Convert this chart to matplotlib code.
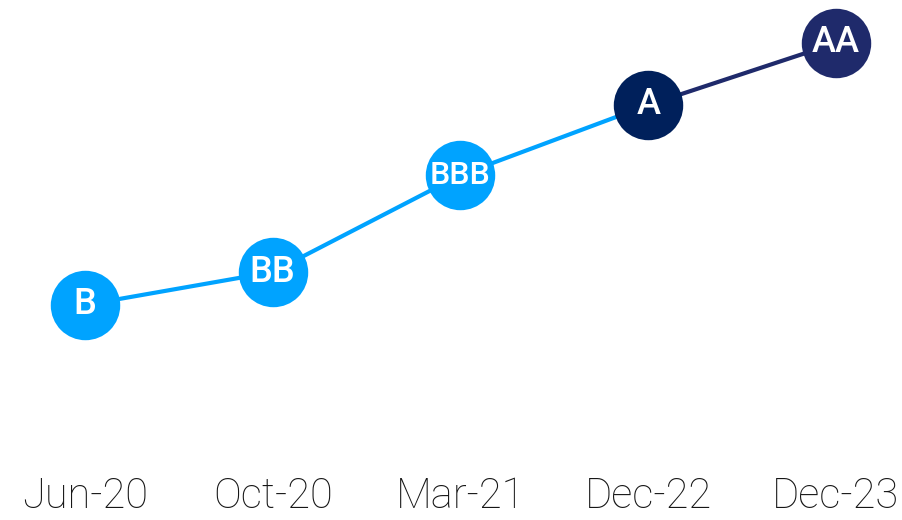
import matplotlib.pyplot as plt

plt.rcParams['font.family'] = ['Roboto', 'DejaVu Sans']

dates = ['Jun-20', 'Oct-20', 'Mar-21', 'Dec-22', 'Dec-23']
ratings = ['B', 'BB', 'BBB', 'A', 'AA']
scores = [163, 196, 293, 363, 425]
dot_colors = ['#00A3FF', '#00A3FF', '#00A3FF', '#00205B', '#1F2A6B']
seg_colors = ['#00A3FF', '#00A3FF', '#00A3FF', '#1F2A6B']
label_sizes = [26, 26, 23, 26, 26]


def main():
  fig = plt.figure(figsize=(9.03, 5.2), dpi=100)
  ax = fig.add_axes([0, 0.1, 1, 0.9])
  x = list(range(len(dates)))

  for i in range(len(x) - 1):
    ax.plot(x[i:i + 2], scores[i:i + 2], color=seg_colors[i], lw=3, zorder=1,
            solid_capstyle='butt')

  for i in x:
    ax.plot(x[i], scores[i], 'o', ms=50, color=dot_colors[i], mec='none', zorder=2)
    ax.text(x[i], scores[i], ratings[i], color='white', ha='center', va='center',
            fontsize=label_sizes[i], fontweight='medium', zorder=3)

  ax.set_xlim(-85 / 187.75, (903 - 85) / 187.75)
  ax.set_ylim(0, 468)
  ax.set_xticks(x)
  ax.set_xticklabels(dates, fontsize=30, fontweight='light', color='#161616')
  ax.tick_params(axis='x', length=0, pad=6)
  ax.set_yticks([])
  for s in ax.spines.values():
    s.set_visible(False)

  fig.savefig('out.png', dpi=100)


if __name__ == '__main__':
  main()
